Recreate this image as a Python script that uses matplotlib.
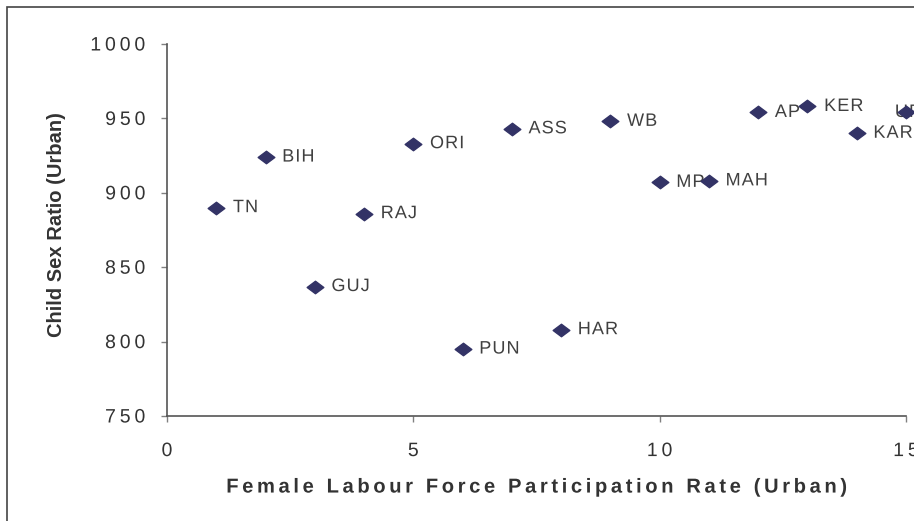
import matplotlib
matplotlib.use('Agg')
import matplotlib.pyplot as plt
import numpy as np
from matplotlib.path import Path
from matplotlib.patches import Rectangle
from matplotlib.patheffects import AbstractPathEffect

states = ['TN', 'BIH', 'GUJ', 'RAJ', 'ORI', 'PUN', 'ASS', 'HAR', 'WB', 'MP',
          'MAH', 'AP', 'KER', 'KAR', 'UP']
flfpr = [1, 2, 3, 4, 5, 6, 7, 8, 9, 10, 11, 12, 13, 14, 15]
csr = [890, 924, 837, 886, 933, 795, 943, 808, 948, 907, 908, 954, 958, 940, 954]

xticks = [0, 5, 10, 15]
yticks = [750, 800, 850, 900, 950, 1000]

plt.rcParams['font.family'] = ['Liberation Sans', 'DejaVu Sans']


class Tracking(AbstractPathEffect):
    # spreads the glyphs of a text apart (letter spacing), em fraction
    def __init__(self, track, anchor='center'):
        super().__init__()
        self.track = track * 100  # text paths are 100 units per em
        self.anchor = anchor

    def draw_path(self, renderer, gc, tpath, affine, rgbFace=None):
        verts, codes = tpath.vertices.copy(), tpath.codes
        if codes is None or len(verts) == 0:
            renderer.draw_path(gc, tpath, affine, rgbFace)
            return
        starts = list(np.where(codes == Path.MOVETO)[0]) + [len(verts)]
        parts = [(starts[i], starts[i + 1]) for i in range(len(starts) - 1)]
        parts.sort(key=lambda p: verts[p[0]:p[1], 0].min())
        idx, right, shifts = -1, None, []
        for a, b in parts:
            x0, x1 = verts[a:b, 0].min(), verts[a:b, 0].max()
            if right is None or x0 >= right - 1:
                if right is not None and x0 - right > 25:
                    idx += 1  # a space in between
                idx += 1
                right = x1
            else:
                right = max(right, x1)
            shifts.append((a, b, idx))
        for a, b, k in shifts:
            verts[a:b, 0] += k * self.track
        total = idx * self.track
        if self.anchor == 'center':
            verts[:, 0] -= total / 2
        elif self.anchor == 'right':
            verts[:, 0] -= total
        renderer.draw_path(gc, Path(verts, codes), affine, rgbFace)


fig = plt.figure(figsize=(9.14, 5.21), dpi=100)
W, H = 914, 521
ax = fig.add_axes([167 / W, 1 - 416 / H, (906 - 167) / W, (416 - 44) / H])

# flat diamond like the old Excel marker
diamond = Path([(-1, 0), (0, 0.75), (1, 0), (0, -0.75), (-1, 0)],
               [Path.MOVETO, Path.LINETO, Path.LINETO, Path.LINETO, Path.CLOSEPOLY])
ax.plot(flfpr, csr, linestyle='none', marker=diamond, markersize=12,
        color='#333366', clip_on=False, zorder=3)

for s, x, y in zip(states, flfpr, csr):
    dx = 12 if x < 15 else -8  # last label was pushed back inside the chart
    ax.annotate(s, (x, y), xytext=(dx, 0), textcoords='offset points',
                va='center', ha='left', fontsize=13, color='#404040',
                annotation_clip=False, zorder=2.5,
                path_effects=[Tracking(0.06, 'left')])

ax.set_xlim(0, 15)
ax.set_ylim(750, 1000)
ax.set_xticks(xticks)
ax.set_yticks(yticks)
ax.tick_params(direction='out', length=4.5, width=1, color='#808080',
               labelsize=14, labelcolor='#333333', pad=11)
ax.tick_params(axis='x', pad=15)
for lab in ax.get_xticklabels():
    lab.set_path_effects([Tracking(0.2, 'center')])
for lab in ax.get_yticklabels():
    lab.set_path_effects([Tracking(0.2, 'right')])

for side in ['top', 'right']:
    ax.spines[side].set_visible(False)
for side in ['left', 'bottom']:
    ax.spines[side].set_color('#555555')
    ax.spines[side].set_linewidth(1.2)

xl = ax.set_xlabel('Female Labour Force Participation Rate (Urban)', fontsize=14.5,
                   fontweight='bold', color='#333333', va='center')
xl.set_path_effects([Tracking(0.18, 'center')])
ax.xaxis.set_label_coords(0.5, -0.191)
ax.set_ylabel('Child Sex Ratio (Urban)', fontsize=14.5, fontweight='bold',
              color='#333333', va='center')
ax.yaxis.set_label_coords(-0.150, 0.515)

# chart border, cut off at right and bottom
fig.patches.append(Rectangle((7 / W, -0.5), 2, 1.5 - 7 / H, transform=fig.transFigure,
                             fill=False, edgecolor='#444444', linewidth=1.2))

fig.savefig('out.png', dpi=100)
